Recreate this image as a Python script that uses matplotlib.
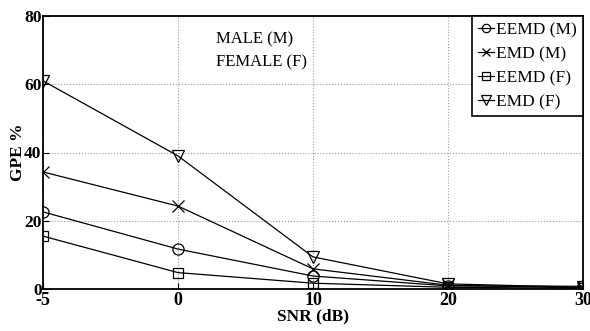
import numpy as np
import matplotlib
matplotlib.use("Agg")
import matplotlib.pyplot as plt

plt.rcParams['font.family'] = ['Liberation Serif', 'DejaVu Serif']

# SNR levels (plotted at equal spacing, as in the source figure)
snr_labels = ["-5", "0", "10", "20", "30"]

# GPE % values
eemd_m = [22.6, 11.7, 3.8, 0.9, 0.8]
emd_m = [34.3, 24.3, 5.9, 1.1, 0.3]
eemd_f = [15.5, 4.8, 1.7, 0.5, 0.2]
emd_f = [61.0, 39.0, 9.4, 1.5, 0.5]

x = np.arange(len(snr_labels))

fig = plt.figure(figsize=(5.9, 3.31), dpi=100)
ax = fig.add_axes([43 / 590, 1 - 289 / 331, 540 / 590, 273 / 331])

style = dict(color="black", linewidth=0.9, markerfacecolor="none",
             markeredgecolor="black", markersize=8, markeredgewidth=0.9)
ax.plot(x, eemd_m, marker="o", label="EEMD (M)", **style)
ax.plot(x, emd_m, marker="x", label="EMD (M)", **style)
ax.plot(x, eemd_f, marker="s", label="EEMD (F)", **dict(style, markersize=7))
ax.plot(x, emd_f, marker="v", label="EMD (F)", **dict(style, markersize=9))

ax.set_xlim(0, 4)
ax.set_ylim(0, 80)
ax.set_xticks(x)
ax.set_xticklabels(snr_labels)
ax.set_yticks([0, 20, 40, 60, 80])
ax.grid(True, linestyle=":", color="#999999", linewidth=0.8)
for s in ax.spines.values():
    s.set_linewidth(1.3)
ax.tick_params(direction="in", length=4, labelsize=13, pad=2)
ax.tick_params(axis="y", labelsize=12.5, pad=1)
for lab in ax.get_xticklabels() + ax.get_yticklabels():
    lab.set_fontweight("bold")

ax.set_xlabel("SNR (dB)", fontsize=12.5, fontweight="bold", labelpad=0)
ax.set_ylabel("GPE %", fontsize=12.5, fontweight="bold", labelpad=-1)

ax.text(0.32, 0.915, "MALE (M)", transform=ax.transAxes, fontsize=12, va="center")
ax.text(0.32, 0.83, "FEMALE (F)", transform=ax.transAxes, fontsize=12, va="center")

leg = ax.legend(loc="upper right", fontsize=12.5, fancybox=False, framealpha=1,
                edgecolor="black", handlelength=0.9, handletextpad=0.15,
                borderaxespad=0.0, labelspacing=0.45, borderpad=0.35,
                markerscale=0.75)
leg.get_frame().set_linewidth(1.2)

fig.savefig("out.png", dpi=100)
